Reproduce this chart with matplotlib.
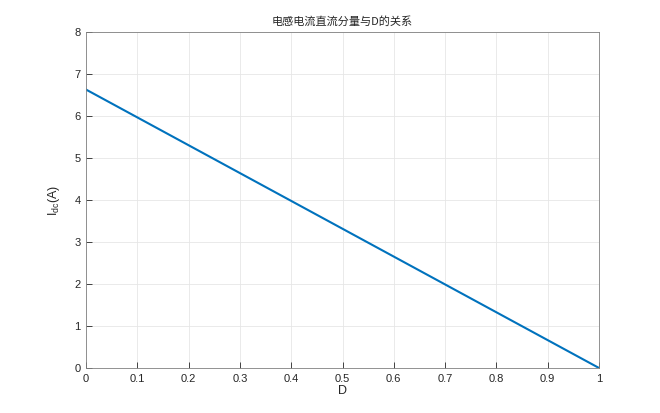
import matplotlib
matplotlib.use('Agg')
import matplotlib.pyplot as plt
import numpy as np

plt.rcParams['font.family'] = ['Liberation Sans', 'Noto Sans CJK SC', 'DejaVu Sans']
plt.rcParams['mathtext.fontset'] = 'custom'
plt.rcParams['mathtext.rm'] = 'Liberation Sans'

# duty ratio and inductor dc current
D = [0, 1]
I_dc = [6.63, 0]
x_ticks = [0, 0.1, 0.2, 0.3, 0.4, 0.5, 0.6, 0.7, 0.8, 0.9, 1]
y_ticks = [0, 1, 2, 3, 4, 5, 6, 7, 8]

fig = plt.figure(figsize=(6.6, 4.13), dpi=100)
ax = fig.add_axes([0.1303, 0.109, 0.7773, 0.8135])
ax.plot(D, I_dc, color='#0072BD', linewidth=1.5)

ax.set_xlim(0, 1)
ax.set_ylim(0, 8)
ax.set_xticks(x_ticks)
ax.set_xticklabels([f'{t:g}' for t in x_ticks])
ax.set_yticks(y_ticks)
ax.grid(True, color='#E6E6E6', linewidth=0.6)
ax.tick_params(direction='in', length=4, width=0.6, colors='#262626',
               labelsize=8, pad=4)
for s in ax.spines.values():
    s.set_color('#808080')
    s.set_linewidth(0.6)

ax.set_title('电感电流直流分量与D的关系', fontsize=8,
             family=['Noto Sans CJK SC', 'DejaVu Sans'], color='#262626', pad=5)
ax.set_xlabel('D', fontsize=9, color='#262626', labelpad=1)
ax.set_ylabel('$\\mathregular{I_{dc}}$(A)', fontsize=9, color='#262626', labelpad=9)

fig.savefig('out.png', dpi=100)
